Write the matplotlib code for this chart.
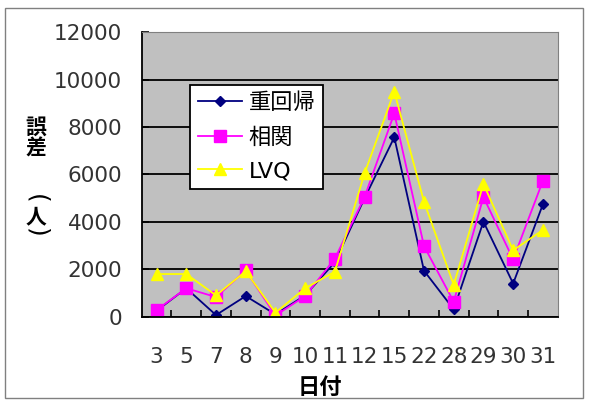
import matplotlib
matplotlib.use("Agg")
from matplotlib import pyplot as plt
from matplotlib.patches import Rectangle

plt.rcParams['font.family'] = ['DejaVu Sans', 'Noto Sans CJK JP']

days = ['3', '5', '7', '8', '9', '10', '11', '12', '15', '22', '28', '29', '30', '31']
multi_reg = [250, 1200, 70, 870, 100, 900, 2300, 5000, 7570, 1940, 310, 4010, 1400, 4740]
correl = [280, 1200, 830, 1950, 50, 870, 2450, 5050, 8580, 2980, 630, 5050, 2420, 5730]
lvq = [1800, 1800, 900, 1920, 170, 1200, 1900, 6050, 9500, 4850, 1340, 5600, 2800, 3660]
yticks = [0, 2000, 4000, 6000, 8000, 10000, 12000]

fig = plt.figure(figsize=(5.89, 4.05), dpi=100)
ax = fig.add_axes([0.2406, 0.218, 0.7063, 0.7023])
ax.set_facecolor('#c0c0c0')

x = range(len(days))
ax.plot(x, multi_reg, color='#000080', marker='D', markersize=5, lw=1.3, label='重回帰')
ax.plot(x, correl, color='#ff00ff', marker='s', markersize=9, lw=1.3, label='相関')
ax.plot(x, lvq, color='#ffff00', marker='^', markersize=9, lw=1.3, label='LVQ')

ax.set_xlim(-0.5, len(days) - 0.5)
ax.set_ylim(0, 12000)
ax.set_yticks(yticks)
ax.set_yticklabels([str(v) for v in yticks], fontsize=15.5, color='#333333')
ax.set_xticks(list(x))
ax.set_xticklabels(days, fontsize=15.5, color='#333333')
ax.set_xticks([i + 0.5 for i in range(len(days) - 1)], minor=True)
ax.tick_params(axis='x', which='major', length=0, pad=22)
ax.tick_params(axis='x', which='minor', direction='in', length=5, width=1.2)
ax.tick_params(axis='y', direction='in', length=5, width=1.2, pad=14)
ax.grid(axis='y', color='black', lw=1.3)
ax.set_axisbelow(True)

for s in ['left', 'bottom']:
    ax.spines[s].set_color('black')
    ax.spines[s].set_linewidth(1.3)
for s in ['top', 'right']:
    ax.spines[s].set_color('#808080')
    ax.spines[s].set_linewidth(0.8)

leg = ax.legend(loc='upper left', bbox_to_anchor=(0.116, 0.815), borderaxespad=0,
                fontsize=16, handlelength=2.0, handletextpad=0.3, labelspacing=0.62,
                borderpad=0.35, fancybox=False, framealpha=1, edgecolor='black')
leg.get_frame().set_linewidth(1.3)

# vertical y label: 誤差（人）
cjk = ['Noto Sans CJK JP']
fig.text(36 / 589, 1 - 127 / 405, '誤', fontsize=15, fontweight='bold', family=cjk,
         ha='center', va='center')
fig.text(36 / 589, 1 - 148 / 405, '差', fontsize=15, fontweight='bold', family=cjk,
         ha='center', va='center')
fig.text(36 / 589, 1 - 199 / 405, '(', fontsize=18, rotation=-90, family=['DejaVu Sans'],
         ha='center', va='center')
fig.text(36 / 589, 1 - 217 / 405, '人', fontsize=15, fontweight='bold', family=cjk,
         ha='center', va='center')
fig.text(36 / 589, 1 - 233 / 405, ')', fontsize=18, rotation=-90, family=['DejaVu Sans'],
         ha='center', va='center')

fig.text(320 / 589, 1 - 387 / 405, '日付', fontsize=16, fontweight='bold',
         family=cjk, ha='center', va='center')

fig.patches.append(Rectangle((5 / 589, 7 / 405), 578 / 589, 390 / 405, transform=fig.transFigure,
                             fill=False, edgecolor='#808080', lw=1))

fig.savefig('out.png')
